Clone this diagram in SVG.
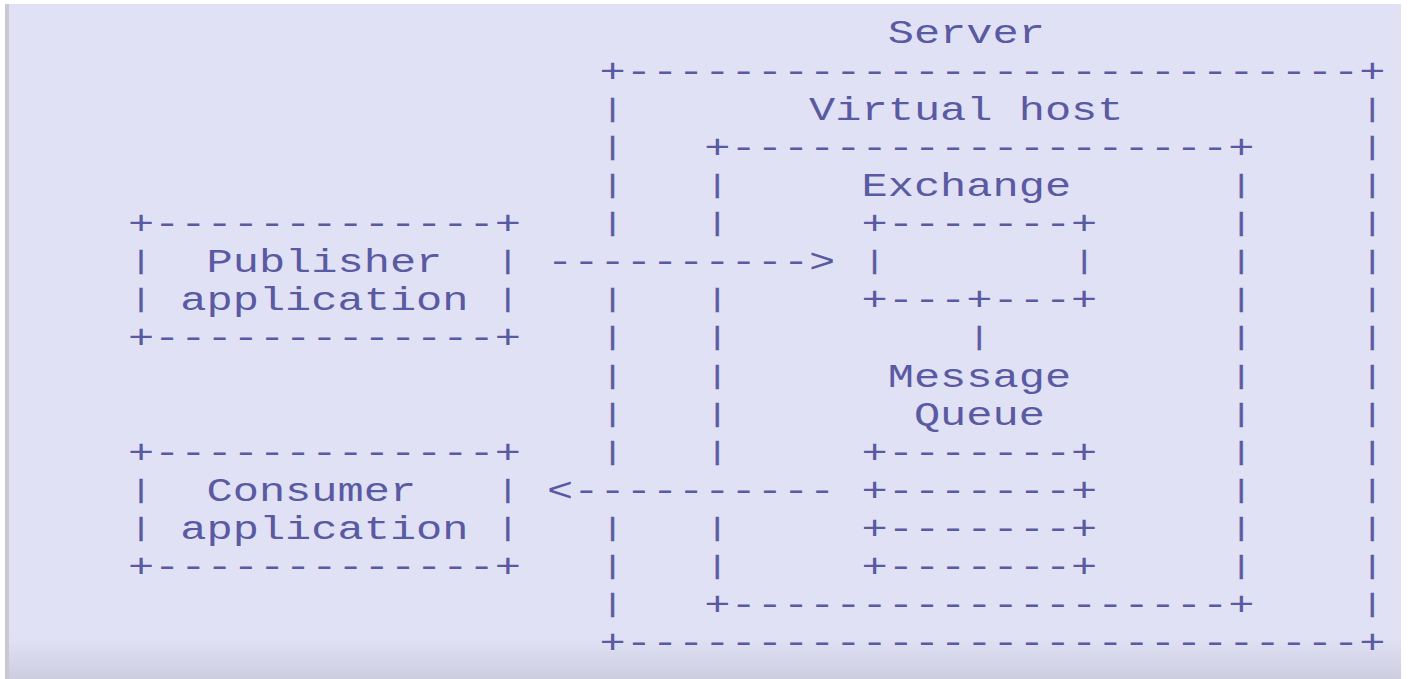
<svg xmlns="http://www.w3.org/2000/svg" width="1410" height="679" viewBox="0 0 1410 679">
<defs>
<linearGradient id="shade" x1="0" y1="0" x2="0" y2="1">
<stop offset="0" stop-color="#e1e1f6"/>
<stop offset="1" stop-color="#cdcde0"/>
</linearGradient>
<style>
.t{font-family:"Liberation Mono","DejaVu Sans Mono",monospace;font-size:34px;fill:#5a5aa2}
.b{font-family:"Liberation Mono","DejaVu Sans Mono",monospace;font-size:26px;fill:#5a5aa2;stroke:#5a5aa2;stroke-width:0.4px;text-anchor:middle}
</style>
</defs>
<rect width="1410" height="679" fill="#ffffff"/>
<rect x="9" y="4" width="1392" height="675" fill="#e1e1f6"/>
<rect x="5" y="4" width="4" height="675" fill="#c9c9d3"/>
<rect x="9" y="638" width="1392" height="41" fill="url(#shade)"/>
<g transform="translate(127.9 0) scale(1.2843 1)">
<g id="server">
<text class="t" x="591.6" y="43.5">Server</text>
<text class="t" x="367.2" y="81.6">+----------------------------+</text>
<text class="t" x="367.2" y="653.5">+----------------------------+</text>
<text class="b" x="377.4" y="116.8">|</text><text class="b" x="377.4" y="154.9">|</text><text class="b" x="377.4" y="193">|</text><text class="b" x="377.4" y="231.1">|</text>
<text class="b" x="377.4" y="307.4">|</text><text class="b" x="377.4" y="345.5">|</text><text class="b" x="377.4" y="383.6">|</text><text class="b" x="377.4" y="421.8">|</text><text class="b" x="377.4" y="459.9">|</text>
<text class="b" x="377.4" y="536.1">|</text><text class="b" x="377.4" y="574.3">|</text><text class="b" x="377.4" y="612.4">|</text>
<text class="b" x="969" y="116.8">|</text><text class="b" x="969" y="154.9">|</text><text class="b" x="969" y="193">|</text><text class="b" x="969" y="231.1">|</text><text class="b" x="969" y="269.3">|</text>
<text class="b" x="969" y="307.4">|</text><text class="b" x="969" y="345.5">|</text><text class="b" x="969" y="383.6">|</text><text class="b" x="969" y="421.8">|</text><text class="b" x="969" y="459.9">|</text>
<text class="b" x="969" y="498">|</text><text class="b" x="969" y="536.1">|</text><text class="b" x="969" y="574.3">|</text><text class="b" x="969" y="612.4">|</text>
</g>
<g id="virtual-host">
<text class="t" x="530.4" y="119.8">Virtual host</text>
<text class="t" x="448.8" y="157.9">+-------------------+</text>
<text class="t" x="448.8" y="615.4">+-------------------+</text>
<text class="b" x="459" y="193">|</text><text class="b" x="459" y="231.1">|</text>
<text class="b" x="459" y="307.4">|</text><text class="b" x="459" y="345.5">|</text><text class="b" x="459" y="383.6">|</text><text class="b" x="459" y="421.8">|</text><text class="b" x="459" y="459.9">|</text>
<text class="b" x="459" y="536.1">|</text><text class="b" x="459" y="574.3">|</text>
<text class="b" x="867" y="193">|</text><text class="b" x="867" y="231.1">|</text><text class="b" x="867" y="269.3">|</text>
<text class="b" x="867" y="307.4">|</text><text class="b" x="867" y="345.5">|</text><text class="b" x="867" y="383.6">|</text><text class="b" x="867" y="421.8">|</text><text class="b" x="867" y="459.9">|</text>
<text class="b" x="867" y="498">|</text><text class="b" x="867" y="536.1">|</text><text class="b" x="867" y="574.3">|</text>
</g>
<g id="exchange">
<text class="t" x="571.2" y="196">Exchange</text>
<text class="t" x="571.2" y="234.1">+-------+</text>
<text class="b" x="581.4" y="269.3">|</text><text class="b" x="744.6" y="269.3">|</text>
<text class="t" x="571.2" y="310.4">+---+---+</text>
</g>
<g id="message-queue">
<text class="t" x="591.6" y="386.6">Message</text>
<text class="t" x="612" y="424.8">Queue</text>
<text class="t" x="571.2" y="462.9">+-------+</text>
<text class="t" x="571.2" y="501">+-------+</text>
<text class="t" x="571.2" y="539.1">+-------+</text>
<text class="t" x="571.2" y="577.3">+-------+</text>
</g>
<g id="publisher">
<text class="t" x="0" y="234.1">+-------------+</text>
<text class="b" x="10.2" y="269.3">|</text><text class="b" x="295.8" y="269.3">|</text>
<text class="t" x="61.2" y="272.3">Publisher</text>
<text class="b" x="10.2" y="307.4">|</text><text class="b" x="295.8" y="307.4">|</text>
<text class="t" x="40.8" y="310.4">application</text>
<text class="t" x="0" y="348.5">+-------------+</text>
</g>
<g id="consumer">
<text class="t" x="0" y="462.9">+-------------+</text>
<text class="b" x="10.2" y="498">|</text><text class="b" x="295.8" y="498">|</text>
<text class="t" x="61.2" y="501">Consumer</text>
<text class="b" x="10.2" y="536.1">|</text><text class="b" x="295.8" y="536.1">|</text>
<text class="t" x="40.8" y="539.1">application</text>
<text class="t" x="0" y="577.3">+-------------+</text>
</g>
<g id="connectors">
<text class="t" x="326.4" y="272.3">----------&gt;</text>
<text class="b" x="663" y="345.5">|</text>
<text class="t" x="326.4" y="501">&lt;----------</text>
</g>
</g>
</svg>
